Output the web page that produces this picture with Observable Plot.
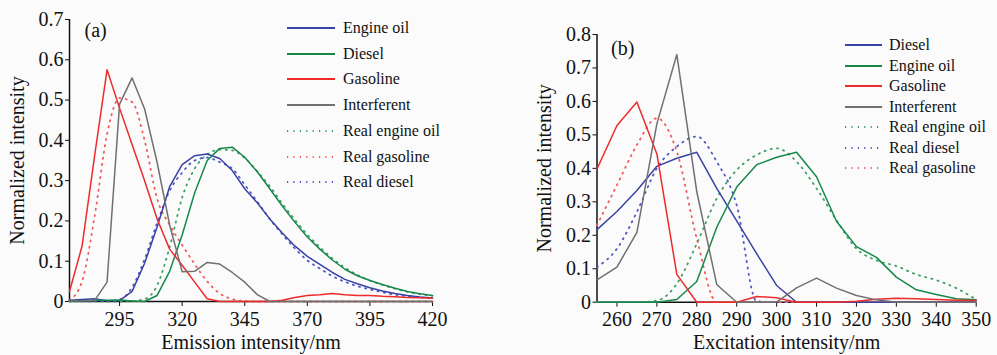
<!DOCTYPE html>
<html>
<head>
<meta charset="utf-8">
<script src="https://cdn.jsdelivr.net/npm/d3@7"></script>
<script src="https://cdn.jsdelivr.net/npm/@observablehq/plot@0.6"></script>
<style>
  html, body { margin: 0; padding: 0; background: #fbfbfb; }
  #wrap { position: relative; width: 997px; height: 355px; background: #fbfbfb; font-family: "Liberation Serif", "Times New Roman", Tinos, "DejaVu Serif", serif; }
  .legend { position: absolute; font-family: "Liberation Serif", "Times New Roman", Tinos, "DejaVu Serif", serif; font-size: 16px; color: #111; }
  .legend .row { position: absolute; display: flex; align-items: center; white-space: nowrap; }
  .legend svg { display: block; }
  svg text { font-family: "Liberation Serif", "Times New Roman", Tinos, "DejaVu Serif", serif !important; }
</style>
</head>
<body>
<div id="wrap"></div>
<script>
// ---------- Panel (a): emission ----------
const emX = [275,280,285,290,295,300,305,310,315,320,325,330,335,340,345,350,355,360,365,370,375,380,385,390,395,400,405,410,415,420];
const emEngineOil = [0.003,0.005,0.007,0.002,0.002,0.025,0.095,0.185,0.285,0.34,0.362,0.366,0.355,0.325,0.28,0.245,0.205,0.17,0.138,0.112,0.092,0.072,0.055,0.044,0.034,0.026,0.02,0.015,0.011,0.009];
const emDiesel = [0.002,0.002,0.003,0.003,0.004,0.001,0,0.015,0.075,0.165,0.27,0.35,0.38,0.383,0.358,0.322,0.28,0.237,0.197,0.16,0.13,0.103,0.08,0.064,0.052,0.042,0.033,0.025,0.019,0.015];
const emGasoline = [0.025,0.137,0.36,0.575,0.48,0.39,0.3,0.205,0.13,0.09,0.048,0.007,0,0,0,0,0,0.003,0.01,0.015,0.017,0.02,0.017,0.015,0.015,0.013,0.012,0.01,0.009,0.008];
const emInterferent = [0.001,0.002,0.002,0.048,0.49,0.555,0.478,0.345,0.19,0.074,0.075,0.097,0.093,0.072,0.048,0.017,0,0,0,0,0,0,0,0,0,0,0,0,0,0];
const emRealEngineOil = [0,0,0,0,0,0.001,0.006,0.04,0.135,0.258,0.33,0.365,0.377,0.375,0.356,0.323,0.286,0.243,0.203,0.166,0.135,0.107,0.084,0.066,0.052,0.041,0.032,0.024,0.018,0.014];
const emRealGasoline = [0.003,0.05,0.21,0.415,0.505,0.495,0.4,0.255,0.19,0.14,0.093,0.05,0.02,0.006,0.001,0,0,0,0,0,0,0,0,0,0,0,0,0,0,0];
const emRealDiesel = [0.001,0.001,0.001,0.001,0.005,0.035,0.105,0.195,0.275,0.32,0.35,0.357,0.346,0.33,0.29,0.248,0.205,0.167,0.132,0.102,0.082,0.063,0.049,0.038,0.03,0.023,0.017,0.013,0.01,0.008];
const emXTicks = [295,320,345,370,395,420];
const emYTicks = [0,0.1,0.2,0.3,0.4,0.5,0.6,0.7];

// ---------- Panel (b): excitation ----------
const exX = [255,260,265,270,275,280,285,290,295,300,305,310,315,320,325,330,335,340,345,350];
const exDiesel = [0.217,0.271,0.334,0.406,0.43,0.448,0.34,0.243,0.145,0.05,0,0,0,0,0,0,0,0,0,0];
const exEngineOil = [0,0,0,0,0.008,0.062,0.224,0.344,0.411,0.433,0.448,0.375,0.242,0.166,0.134,0.075,0.037,0.023,0.01,0.007];
const exGasoline = [0.398,0.528,0.598,0.443,0.083,0,0,0,0.017,0.013,0,0,0,0.003,0.009,0.012,0.01,0.008,0.006,0.005];
const exInterferent = [0.067,0.105,0.209,0.533,0.74,0.33,0.053,0,0,0,0.043,0.072,0.042,0.02,0.007,0,0,0,0,0];
const exRealEngineOil = [0,0,0,0.005,0.055,0.175,0.31,0.395,0.44,0.46,0.42,0.34,0.245,0.16,0.125,0.108,0.083,0.066,0.042,0.008];
const exRealDiesel = [0.105,0.16,0.27,0.4,0.465,0.495,0.42,0.29,0.003,0,0,0,0,0,0,0,0,0,0,0];
const exRealGasoline = [0.23,0.35,0.47,0.55,0.45,0.19,0,0,0,0,0,0,0,0,0,0,0,0,0,0];
const exXTicks = [260,270,280,290,300,310,320,330,340,350];
const exYTicks = [0,0.1,0.2,0.3,0.4,0.5,0.6,0.7,0.8];

const BLUE = "#3a42a4", GREEN = "#16884a", RED = "#ee2b2b", GRAY = "#707070";
const BLUE_D = "#4f57c2", GREEN_D = "#3e9f62", RED_D = "#f05a5a";

const panelA = [
  {name: "Engine oil", values: emEngineOil, color: BLUE, dotted: false},
  {name: "Diesel", values: emDiesel, color: GREEN, dotted: false},
  {name: "Gasoline", values: emGasoline, color: RED, dotted: false},
  {name: "Interferent", values: emInterferent, color: GRAY, dotted: false},
  {name: "Real engine oil", values: emRealEngineOil, color: GREEN_D, dotted: true},
  {name: "Real gasoline", values: emRealGasoline, color: RED_D, dotted: true},
  {name: "Real diesel", values: emRealDiesel, color: BLUE_D, dotted: true}
];
const panelB = [
  {name: "Diesel", values: exDiesel, color: BLUE, dotted: false},
  {name: "Engine oil", values: exEngineOil, color: GREEN, dotted: false},
  {name: "Gasoline", values: exGasoline, color: RED, dotted: false},
  {name: "Interferent", values: exInterferent, color: GRAY, dotted: false},
  {name: "Real engine oil", values: exRealEngineOil, color: GREEN_D, dotted: true},
  {name: "Real diesel", values: exRealDiesel, color: BLUE_D, dotted: true},
  {name: "Real gasoline", values: exRealGasoline, color: RED_D, dotted: true}
];

const DASH = "1.2,5.2";
const FONT = '"Liberation Serif", "Times New Roman", Tinos, "DejaVu Serif", serif';
const yFmt = d => d === 0 ? "0" : d3.format(".1f")(d);

function seriesMarks(xs, series) {
  const order = [...series.filter(s => s.dotted), ...series.filter(s => !s.dotted)];
  return order.map(s => Plot.line(xs.map((x, i) => ({x, y: s.values[i]})), {
    x: "x", y: "y", stroke: s.color, strokeWidth: s.dotted ? 1.8 : 1.5,
    strokeDasharray: s.dotted ? DASH : null,
    curve: s.dotted ? "monotone-x" : "linear"
  }));
}

function panel({xs, series, xDomain, yDomain, xTicks, yTicks, xLabel, tag, width, marginLeft, marginRight, marginTop, marginBottom, tagDx, tagDy}) {
  return Plot.plot({
    width, height: 355,
    marginLeft, marginRight, marginTop, marginBottom,
    style: {fontFamily: FONT, fontSize: "20px", color: "#111", background: "transparent", overflow: "visible"},
    x: {domain: xDomain},
    y: {domain: yDomain},
    marks: [
      Plot.axisX({ticks: xTicks, tickSize: 5, tickPadding: 5, label: xLabel, labelAnchor: "center", labelArrow: "none", labelOffset: 47, fontSize: 20}),
      Plot.axisY({ticks: yTicks, tickSize: 4, tickPadding: 2, tickFormat: yFmt, label: "Normalized intensity", labelAnchor: "center", labelArrow: "none", labelOffset: 60, fontSize: 20}),
      Plot.ruleX([xDomain[0]], {stroke: "#111", strokeWidth: 1.5}),
      Plot.ruleY([0], {stroke: "#111", strokeWidth: 1.5}),
      ...seriesMarks(xs, series),
      Plot.text([tag], {frameAnchor: "top-left", dx: tagDx, dy: tagDy, text: d => d, textAnchor: "start", lineAnchor: "top", fontSize: 20, fill: "#111"})
    ]
  });
}

function legend(series, {left, top, rowGap, lineLen, gap}) {
  const box = document.createElement("div");
  box.className = "legend";
  box.style.left = left + "px";
  box.style.top = top + "px";
  series.forEach((s, i) => {
    const row = document.createElement("div");
    row.className = "row";
    row.style.top = (i * rowGap - 10) + "px";
    row.style.height = "20px";
    const svgNS = "http://www.w3.org/2000/svg";
    const sw = document.createElementNS(svgNS, "svg");
    sw.setAttribute("width", lineLen);
    sw.setAttribute("height", 20);
    const ln = document.createElementNS(svgNS, "line");
    ln.setAttribute("x1", 0); ln.setAttribute("x2", lineLen);
    ln.setAttribute("y1", 10); ln.setAttribute("y2", 10);
    ln.setAttribute("stroke", s.color);
    ln.setAttribute("stroke-width", s.dotted ? 1.8 : 2);
    if (s.dotted) ln.setAttribute("stroke-dasharray", DASH);
    sw.appendChild(ln);
    row.appendChild(sw);
    const t = document.createElement("span");
    t.textContent = s.name;
    t.style.marginLeft = gap + "px";
    t.style.lineHeight = "20px";
    row.appendChild(t);
    box.appendChild(row);
  });
  return box;
}

const wrap = document.getElementById("wrap");

const svgA = panel({
  xs: emX, series: panelA, xDomain: [275, 420], yDomain: [0, 0.7],
  xTicks: emXTicks, yTicks: emYTicks, xLabel: "Emission intensity/nm", tag: "(a)",
  width: 480, marginLeft: 69, marginRight: 48, marginTop: 19, marginBottom: 54, tagDx: 15, tagDy: 3
});
svgA.style.position = "absolute"; svgA.style.left = "0px"; svgA.style.top = "0px";
wrap.appendChild(svgA);

const svgB = panel({
  xs: exX, series: panelB, xDomain: [255, 350], yDomain: [0, 0.8],
  xTicks: exXTicks, yTicks: exYTicks, xLabel: "Excitation intensity/nm", tag: "(b)",
  width: 517, marginLeft: 116.5, marginRight: 21.3, marginTop: 34, marginBottom: 53.3, tagDx: 14, tagDy: 6
});
svgB.style.position = "absolute"; svgB.style.left = "480px"; svgB.style.top = "0px";
wrap.appendChild(svgB);

wrap.appendChild(legend(panelA, {left: 287, top: 28, rowGap: 25.7, lineLen: 48, gap: 8}));
wrap.appendChild(legend(panelB, {left: 845, top: 45, rowGap: 20.5, lineLen: 37, gap: 7}));
</script>
</body>
</html>
